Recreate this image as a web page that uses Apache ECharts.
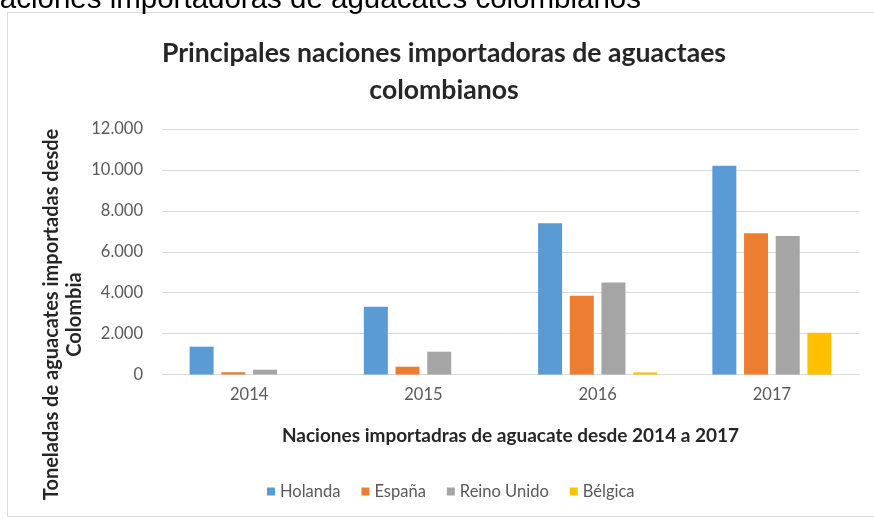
<!DOCTYPE html>
<html>
<head>
<meta charset="utf-8">
<script src="https://cdn.jsdelivr.net/npm/echarts@6/dist/echarts.min.js"></script>
<style>
  html, body { margin: 0; padding: 0; background: #ffffff; }
  #chart { width: 874px; height: 519px; }
</style>
</head>
<body>
<div id="chart"></div>
<script>
// Avocado imports from Colombia, tonnes per year and destination country
const years = ['2014', '2015', '2016', '2017'];
const countries = ['Holanda', 'España', 'Reino Unido', 'Bélgica'];
const holanda = [1360, 3310, 7390, 10200];
const espana = [110, 380, 3850, 6900];
const reinoUnido = [235, 1115, 4500, 6770];
const belgica = [0, 0, 100, 2040];
const colors = ['#5B9BD5', '#ED7D31', '#A5A5A5', '#FFC000'];

const FONT = 'Lato, "Open Sans", sans-serif';
const seriesValues = [holanda, espana, reinoUnido, belgica];

const chart = echarts.init(document.getElementById('chart'), null, { renderer: 'canvas' });

chart.setOption({
  backgroundColor: '#ffffff',
  animation: false,
  color: colors,
  textStyle: { fontFamily: FONT },
  title: {
    text: 'Principales naciones importadoras de aguactaes\ncolombianos',
    left: 439,
    top: 30,
    textAlign: 'center',
    textStyle: {
      fontFamily: FONT,
      fontWeight: 'bold',
      fontSize: 26.6,
      lineHeight: 37,
      color: '#262626'
    }
  },
  legend: {
    data: countries,
    left: 262,
    top: 478,
    icon: 'rect',
    itemWidth: 8,
    itemHeight: 8,
    itemGap: 21,
    textStyle: { fontFamily: FONT, fontSize: 16.5, color: '#595959' }
  },
  grid: { left: 162, right: 15, top: 129, bottom: 144.5, containLabel: false },
  xAxis: {
    type: 'category',
    data: years,
    name: 'Naciones importadras de aguacate desde 2014 a 2017',
    nameLocation: 'middle',
    nameGap: 52,
    nameTextStyle: { fontFamily: FONT, fontWeight: 'bold', fontSize: 19, color: '#262626' },
    axisLine: { lineStyle: { color: '#D9D9D9', width: 1 } },
    axisTick: { show: false },
    axisLabel: { color: '#595959', fontSize: 16.5, margin: 12, fontFamily: FONT }
  },
  yAxis: {
    type: 'value',
    min: 0,
    max: 12000,
    interval: 2000,
    axisLine: { show: false },
    axisTick: { show: false },
    splitLine: { lineStyle: { color: '#D9D9D9', width: 1 } },
    axisLabel: {
      color: '#595959',
      fontSize: 16.5,
      margin: 19,
      fontFamily: FONT,
      formatter: v => v.toString().replace(/\B(?=(\d{3})+(?!\d))/g, '.')
    }
  },
  series: countries.map((name, i) => ({
    name: name,
    type: 'bar',
    data: seriesValues[i],
    barWidth: 24,
    barGap: '32%',
    itemStyle: { color: colors[i] }
  })),
  graphic: [
    {
      type: 'rect',
      shape: { x: 7.5, y: 12.5, width: 880, height: 504 },
      style: { fill: 'none', stroke: '#D9D9D9', lineWidth: 1 },
      silent: true
    },
    {
      type: 'text',
      x: 641,
      y: 0,
      style: {
        text: 'naciones importadoras de aguacates colombianos',
        fontFamily: '"Liberation Sans", Arial, sans-serif',
        fontSize: 29.5,
        fill: '#000000',
        align: 'right',
        verticalAlign: 'middle'
      },
      silent: true
    },
    {
      type: 'text',
      x: 63,
      y: 314.5,
      rotation: Math.PI / 2,
      style: {
        text: 'Toneladas de aguacates importadas desde\nColombia',
        fontFamily: FONT,
        fontWeight: 'bold',
        fontSize: 20,
        lineHeight: 23,
        fill: '#262626',
        align: 'center',
        verticalAlign: 'middle'
      },
      silent: true
    }
  ]
});
</script>
</body>
</html>
